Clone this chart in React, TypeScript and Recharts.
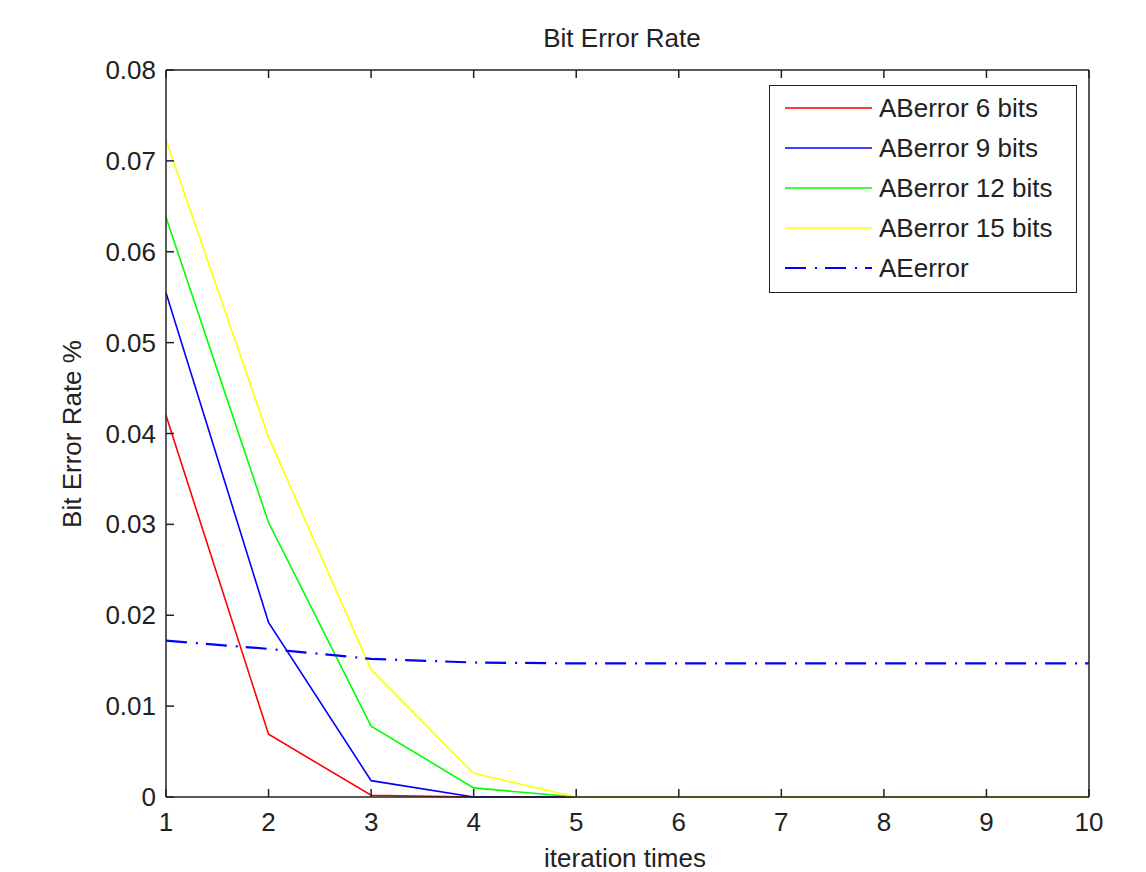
import { LineChart, Line, XAxis, YAxis, Legend } from "recharts";

const iterations = [1, 2, 3, 4, 5, 6, 7, 8, 9, 10];
const ab6 = [0.042, 0.0069, 0.0002, 0, 0, 0, 0, 0, 0, 0];
const ab9 = [0.0555, 0.0192, 0.0018, 0, 0, 0, 0, 0, 0, 0];
const ab12 = [0.0638, 0.0302, 0.0078, 0.001, 0, 0, 0, 0, 0, 0];
const ab15 = [0.0723, 0.0396, 0.014, 0.0026, 0, 0, 0, 0, 0, 0];
const aeError = [0.0172, 0.0163, 0.0152, 0.0148, 0.0147, 0.0147, 0.0147, 0.0147, 0.0147, 0.0147];

const yTicks = [0, 0.01, 0.02, 0.03, 0.04, 0.05, 0.06, 0.07, 0.08];

const series = [
  { key: "ab6", name: "ABerror 6 bits", color: "#ff0000", dash: undefined, width: 1.6 },
  { key: "ab9", name: "ABerror 9 bits", color: "#0000ff", dash: undefined, width: 1.6 },
  { key: "ab12", name: "ABerror 12 bits", color: "#00ff00", dash: undefined, width: 1.6 },
  { key: "ab15", name: "ABerror 15 bits", color: "#ffff00", dash: undefined, width: 1.6 },
  { key: "ae", name: "AEerror", color: "#0000ff", dash: "21 9 2 8", width: 2.2 },
];

const data = iterations.map((it, i) => ({
  it,
  ab6: ab6[i],
  ab9: ab9[i],
  ab12: ab12[i],
  ab15: ab15[i],
  ae: aeError[i],
}));

const font = "'Liberation Sans', Arial, sans-serif";
const ink = "#222";
const TICK = 8;

function fmtY(v: number) {
  return v === 0 ? "0" : String(Number(v.toFixed(2)));
}

// inward tick + label, drawn from the tick position recharts hands over
function LeftTick({ x, y, payload }: any) {
  return (
    <g>
      <line x1={x} y1={y} x2={x + TICK} y2={y} stroke={ink} strokeWidth={1.5} />
      <text x={x - 10} y={y} dy={9} textAnchor="end" fontSize={26} fill={ink} fontFamily={font}>
        {fmtY(payload.value)}
      </text>
    </g>
  );
}

function BottomTick({ x, y, payload }: any) {
  return (
    <g>
      <line x1={x} y1={y} x2={x} y2={y - TICK} stroke={ink} strokeWidth={1.5} />
      <text x={x} y={y + 34} textAnchor="middle" fontSize={26} fill={ink} fontFamily={font}>
        {payload.value}
      </text>
    </g>
  );
}

function RightTick({ x, y }: any) {
  return <line x1={x} y1={y} x2={x - TICK} y2={y} stroke={ink} strokeWidth={1.5} />;
}

function TopTick({ x, y }: any) {
  return <line x1={x} y1={y} x2={x} y2={y + TICK} stroke={ink} strokeWidth={1.5} />;
}

function BoxLegend() {
  return (
    <div
      style={{
        border: "1.5px solid " + ink,
        background: "#fff",
        width: 308,
        height: 208,
        boxSizing: "border-box",
        padding: "2px 0 0 15px",
        fontFamily: font,
        fontSize: 26,
        color: ink,
      }}
    >
      {series.map((s) => (
        <div key={s.key} style={{ display: "flex", alignItems: "center", height: 40 }}>
          <svg width={87} height={10} style={{ marginRight: 7 }}>
            <line
              x1={0}
              y1={5}
              x2={87}
              y2={5}
              stroke={s.color}
              strokeWidth={s.width}
              strokeDasharray={s.dash}
            />
          </svg>
          <span style={{ lineHeight: "40px" }}>{s.name}</span>
        </div>
      ))}
    </div>
  );
}

export default function App() {
  return (
    <div style={{ position: "absolute", left: 0, top: 0, width: 1146, height: 872, background: "#fff" }}>
      <LineChart
        width={1146}
        height={872}
        data={data}
        margin={{ left: 106, top: 69, right: 56, bottom: 40 }}
      >
        <text x={622} y={47} textAnchor="middle" fontSize={26} fill={ink} fontFamily={font}>
          Bit Error Rate
        </text>
        <text x={625} y={867} textAnchor="middle" fontSize={26} fill={ink} fontFamily={font}>
          iteration times
        </text>
        <text
          x={81}
          y={434}
          textAnchor="middle"
          fontSize={26}
          fill={ink}
          fontFamily={font}
          transform="rotate(-90 81 434)"
        >
          Bit Error Rate %
        </text>
        <XAxis
          xAxisId="b"
          dataKey="it"
          type="number"
          domain={[1, 10]}
          ticks={iterations}
          height={35}
          tickSize={0}
          tickMargin={0}
          tickLine={false}
          tick={<BottomTick />}
          stroke={ink}
          strokeWidth={1.5}
          interval={0}
        />
        <XAxis
          xAxisId="t"
          dataKey="it"
          type="number"
          domain={[1, 10]}
          ticks={iterations}
          orientation="top"
          height={1}
          tickSize={0}
          tickMargin={0}
          tickLine={false}
          tick={<TopTick />}
          stroke={ink}
          strokeWidth={1.5}
          interval={0}
        />
        <YAxis
          yAxisId="l"
          domain={[0, 0.08]}
          ticks={yTicks}
          width={60}
          tickSize={0}
          tickMargin={0}
          tickLine={false}
          tick={<LeftTick />}
          stroke={ink}
          strokeWidth={1.5}
          interval={0}
        />
        <YAxis
          yAxisId="r"
          orientation="right"
          domain={[0, 0.08]}
          ticks={yTicks}
          width={1}
          tickSize={0}
          tickMargin={0}
          tickLine={false}
          tick={<RightTick />}
          stroke={ink}
          strokeWidth={1.5}
          interval={0}
        />
        <Legend
          layout="vertical"
          align="center"
          verticalAlign="middle"
          content={() => <BoxLegend />}
          wrapperStyle={{ position: "absolute", left: 769, top: 85, width: 308, height: 208 }}
        />
        {series.map((s) => (
          <Line
            key={s.key}
            xAxisId="b"
            yAxisId="l"
            type="linear"
            dataKey={s.key}
            name={s.name}
            stroke={s.color}
            strokeWidth={s.width}
            strokeDasharray={s.dash}
            dot={false}
            activeDot={false}
            isAnimationActive={false}
          />
        ))}
      </LineChart>
    </div>
  );
}
